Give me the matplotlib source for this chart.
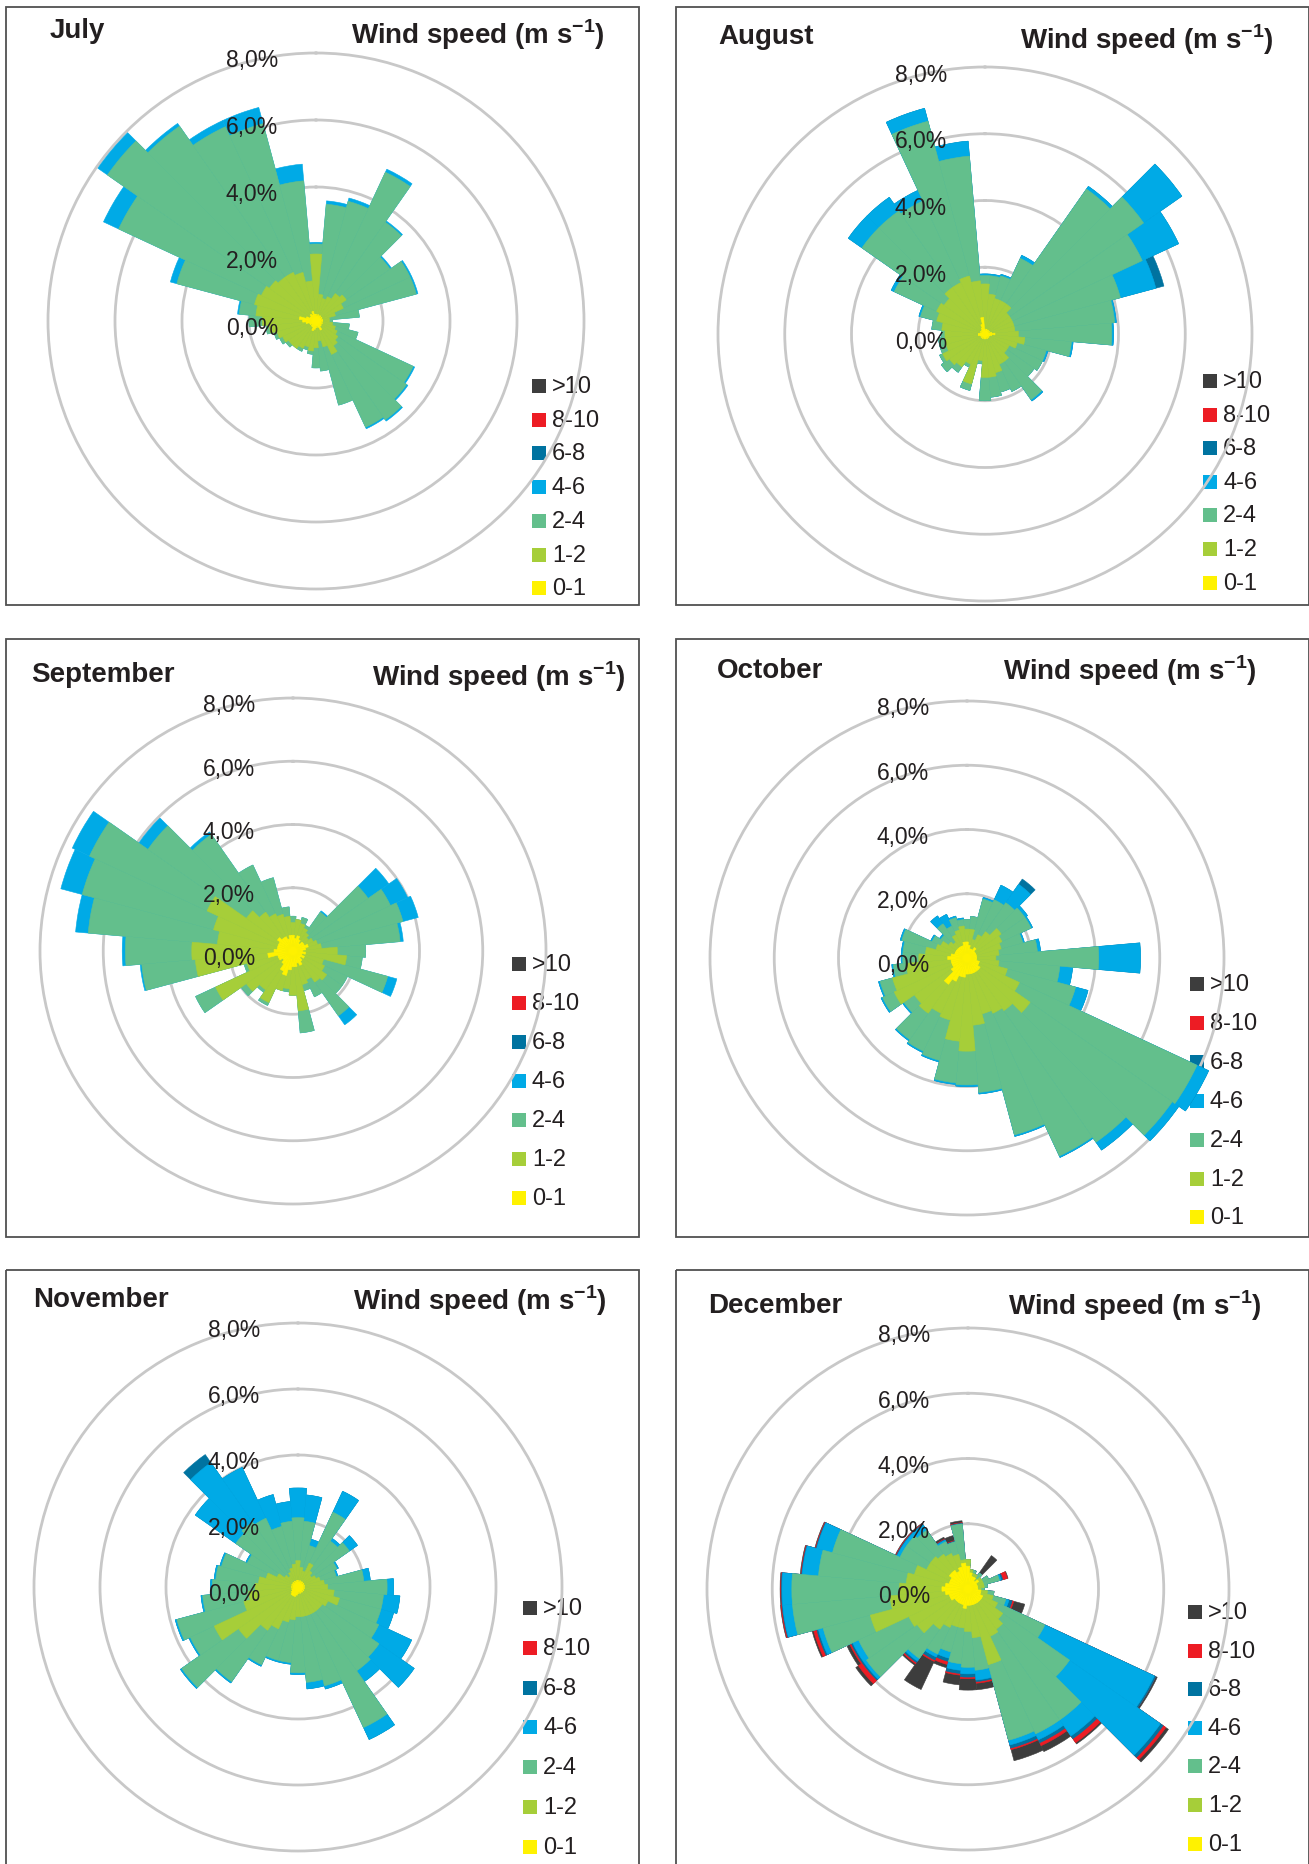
import numpy as np
import matplotlib
matplotlib.use('Agg')
import matplotlib.pyplot as plt
from matplotlib.patches import Rectangle

plt.rcParams['font.family'] = ['Liberation Sans', 'DejaVu Sans']
plt.rcParams['mathtext.fontset'] = 'custom'
plt.rcParams['mathtext.rm'] = 'Liberation Sans'
plt.rcParams['mathtext.bf'] = 'Liberation Sans:bold'

# wind directions (deg, clockwise from north), 10 degree sectors
directions = np.arange(0, 360, 10)
speed_classes = ['>10', '8-10', '6-8', '4-6', '2-4', '1-2', '0-1']
class_colors = {'>10': '#3d3d3d', '8-10': '#ed1c24', '6-8': '#0073a0',
                '4-6': '#00aae6', '2-4': '#63bf8c', '1-2': '#a6ce39', '0-1': '#fff200'}
ring_values = [0, 2, 4, 6, 8]
ring_labels = ['0,0%', '2,0%', '4,0%', '6,0%', '8,0%']

# cumulative frequency (%) up to the upper bound of each speed class, per direction
jul_01 = [0.2, 0.15, 0.2, 0.15, 0.2, 0.15, 0.2, 0.15, 0.2, 0.2, 0.15, 0.2, 0.15, 0.2, 0.2, 0.3, 0.2, 0.15,
          0.2, 0.25, 0.3, 0.2, 0.2, 0.15, 0.2, 0.2, 0.3, 0.4, 0.5, 0.3, 0.2, 0.2, 0.25, 0.2, 0.3, 0.2]
jul_12 = [2.0, 0.8, 0.7, 0.8, 1.0, 1.1, 0.9, 0.6, 0.4, 0.4, 0.5, 0.6, 0.7, 0.8, 0.9, 1.1, 0.8, 0.6,
          0.8, 0.9, 0.8, 0.9, 1.0, 1.0, 1.1, 1.2, 1.4, 1.6, 1.8, 1.9, 1.8, 1.7, 1.6, 1.6, 1.5, 1.2]
jul_24 = [2.3, 3.5, 3.7, 4.9, 3.6, 2.7, 3.1, 3.1, 1.3, 0.5, 1.0, 1.3, 3.2, 3.3, 3.6, 3.5, 2.6, 1.5,
          1.4, 1.0, 0.9, 1.0, 1.0, 1.1, 1.2, 1.3, 1.5, 2.0, 2.3, 4.3, 6.5, 7.6, 7.1, 6.4, 6.1, 4.2]
jul_46 = [2.35, 3.6, 3.8, 5.0, 3.65, 2.75, 3.15, 3.15, 1.3, 0.5, 1.0, 1.3, 3.25, 3.35, 3.65, 3.55, 2.6, 1.5,
          1.4, 1.0, 0.9, 1.0, 1.0, 1.1, 1.2, 1.3, 1.5, 2.0, 2.35, 4.5, 7.0, 7.95, 7.2, 6.6, 6.6, 4.7]

aug_01 = [0.15, 0.1, 0.15, 0.1, 0.15, 0.1, 0.15, 0.1, 0.2, 0.3, 0.2, 0.15, 0.1, 0.15, 0.1, 0.15, 0.1, 0.15,
          0.1, 0.15, 0.1, 0.15, 0.1, 0.15, 0.1, 0.15, 0.2, 0.2, 0.15, 0.1, 0.15, 0.1, 0.15, 0.2, 0.3, 0.5]
aug_12 = [1.5, 1.2, 1.1, 1.1, 1.1, 0.9, 0.9, 0.9, 0.9, 1.0, 1.2, 1.0, 0.8, 0.8, 1.0, 1.0, 1.2, 1.3,
          1.3, 0.8, 1.55, 1.0, 1.2, 1.3, 1.4, 1.2, 1.2, 1.2, 1.3, 1.5, 1.6, 1.5, 1.7, 1.7, 1.8, 1.6]
aug_24 = [1.75, 1.75, 1.8, 2.5, 5.3, 5.8, 5.2, 4.2, 3.9, 3.8, 2.6, 1.9, 1.9, 1.8, 2.4, 1.9, 1.8, 1.9,
          2.0, 0.9, 1.75, 1.1, 1.4, 1.6, 1.5, 1.4, 1.4, 1.3, 1.6, 2.0, 3.0, 4.5, 4.5, 4.4, 6.6, 5.35]
aug_46 = [1.8, 1.8, 1.85, 2.6, 5.4, 7.2, 6.4, 5.3, 3.95, 3.85, 2.65, 1.95, 1.9, 1.8, 2.45, 1.9, 1.8, 1.9,
          2.0, 0.9, 1.75, 1.1, 1.4, 1.6, 1.5, 1.4, 1.4, 1.3, 1.6, 2.05, 3.1, 5.0, 5.0, 4.75, 7.0, 5.8]
aug_68 = [1.8, 1.8, 1.85, 2.6, 5.4, 7.2, 6.4, 5.55, 3.95, 3.85, 2.65, 1.95, 1.9, 1.8, 2.45, 1.9, 1.8, 1.9,
          2.0, 0.9, 1.75, 1.1, 1.4, 1.6, 1.5, 1.4, 1.4, 1.3, 1.6, 2.05, 3.1, 5.0, 5.0, 4.75, 7.0, 5.8]

sep_01 = [0.5, 0.4, 0.5, 0.4, 0.3, 0.4, 0.4, 0.5, 0.4, 0.3, 0.4, 0.3, 0.4, 0.3, 0.4, 0.5, 0.4, 0.5,
          0.5, 0.6, 0.8, 0.7, 0.5, 0.4, 0.5, 0.5, 0.8, 0.6, 0.5, 0.5, 0.5, 0.6, 0.5, 0.5, 0.4, 0.5]
sep_12 = [0.9, 1.0, 0.9, 0.8, 0.7, 0.6, 0.7, 0.8, 0.9, 1.4, 1.7, 1.0, 1.1, 1.3, 1.2, 1.0, 1.1, 1.9,
          1.4, 1.2, 1.3, 1.8, 1.5, 1.8, 2.7, 1.5, 3.1, 3.2, 2.4, 2.6, 3.0, 1.8, 1.5, 1.3, 1.2, 1.1]
sep_24 = [1.1, 1.0, 1.1, 0.9, 1.5, 2.9, 3.4, 3.6, 3.4, 2.3, 2.2, 3.1, 1.9, 1.9, 2.5, 1.6, 1.3, 2.6,
          1.4, 1.3, 1.3, 1.9, 1.6, 2.0, 3.4, 1.6, 4.8, 5.3, 6.5, 6.9, 7.1, 5.6, 4.5, 3.0, 2.4, 1.4]
sep_46 = [1.1, 1.0, 1.1, 0.9, 1.55, 3.7, 4.0, 4.1, 3.5, 2.3, 2.2, 3.4, 1.9, 1.9, 2.85, 1.6, 1.3, 2.6,
          1.4, 1.3, 1.3, 1.9, 1.6, 2.0, 3.4, 1.6, 4.85, 5.4, 6.9, 7.6, 7.7, 5.95, 4.6, 3.0, 2.4, 1.4]

oct_01 = [0.5, 0.4, 0.3, 0.3, 0.4, 0.3, 0.3, 0.3, 0.3, 0.3, 0.3, 0.4, 0.4, 0.5, 0.5, 0.5, 0.5, 0.5,
          0.5, 0.6, 0.6, 0.8, 1.0, 0.6, 0.5, 0.5, 0.5, 0.6, 0.5, 0.4, 0.4, 0.4, 0.4, 0.4, 0.4, 0.5]
oct_12 = [0.9, 0.9, 0.6, 0.8, 1.0, 1.3, 1.2, 1.1, 1.0, 0.9, 1.0, 1.3, 1.8, 2.4, 2.0, 1.9, 1.8, 2.1,
          2.9, 2.6, 2.0, 1.9, 2.1, 2.0, 2.5, 2.4, 1.9, 1.5, 1.3, 1.0, 0.9, 0.7, 0.6, 0.8, 0.9, 1.0]
oct_24 = [1.2, 1.3, 1.9, 2.0, 2.1, 2.2, 2.2, 1.8, 2.2, 4.1, 2.9, 3.5, 7.9, 7.8, 7.0, 6.8, 5.7, 4.2,
          3.95, 3.9, 3.3, 3.2, 3.1, 2.4, 2.9, 2.8, 2.3, 2.0, 2.0, 2.1, 1.2, 1.0, 1.3, 1.1, 1.3, 1.2]
oct_46 = [1.2, 1.3, 1.95, 2.5, 2.8, 2.3, 2.25, 1.85, 2.3, 5.4, 3.3, 3.9, 8.3, 8.05, 7.3, 6.85, 5.75, 4.25,
          4.0, 3.95, 3.35, 3.25, 3.15, 2.45, 2.95, 2.85, 2.35, 2.05, 2.05, 2.15, 1.25, 1.05, 1.6, 1.5, 1.35, 1.25]
oct_68 = [1.2, 1.3, 1.95, 2.5, 3.0, 2.3, 2.25, 1.85, 2.3, 5.4, 3.3, 3.9, 8.3, 8.05, 7.3, 6.85, 5.75, 4.25,
          4.0, 3.95, 3.35, 3.25, 3.15, 2.45, 2.95, 2.85, 2.35, 2.05, 2.05, 2.15, 1.25, 1.05, 1.6, 1.5, 1.35, 1.25]

nov_01 = [0.2, 0.15, 0.2, 0.15, 0.2, 0.15, 0.2, 0.15, 0.2, 0.15, 0.2, 0.15, 0.2, 0.15, 0.2, 0.15, 0.2, 0.15,
          0.2, 0.25, 0.3, 0.3, 0.3, 0.25, 0.2, 0.2, 0.15, 0.2, 0.15, 0.2, 0.15, 0.2, 0.15, 0.2, 0.15, 0.2]
nov_12 = [0.8, 0.6, 0.5, 0.8, 0.6, 0.5, 0.6, 0.7, 0.8, 0.9, 1.1, 1.3, 1.0, 0.9, 0.9, 0.9, 0.9, 0.9,
          0.9, 1.0, 1.1, 1.4, 1.6, 2.2, 2.8, 1.7, 1.5, 1.3, 1.2, 1.0, 0.7, 0.5, 0.4, 0.5, 0.6, 0.7]
nov_24 = [2.1, 2.0, 1.3, 2.5, 1.7, 1.9, 1.3, 1.2, 2.0, 2.7, 2.6, 2.6, 2.7, 3.0, 3.1, 4.7, 3.1, 2.9,
          2.6, 2.3, 2.3, 2.6, 3.5, 4.3, 3.6, 3.8, 2.9, 2.6, 2.5, 2.4, 1.7, 2.3, 2.4, 2.3, 1.9, 2.0]
nov_46 = [3.0, 2.8, 1.5, 3.2, 1.8, 2.2, 1.35, 1.25, 2.2, 2.9, 3.1, 3.0, 3.8, 4.3, 3.5, 5.1, 3.2, 3.1,
          2.65, 2.35, 2.35, 2.65, 3.55, 4.35, 3.65, 3.85, 2.95, 2.65, 2.55, 2.45, 1.75, 3.8, 4.6, 4.0, 2.9, 2.6]
nov_68 = [3.0, 2.8, 1.5, 3.2, 1.8, 2.2, 1.35, 1.25, 2.2, 2.9, 3.1, 3.0, 3.8, 4.3, 3.5, 5.1, 3.2, 3.1,
          2.65, 2.35, 2.35, 2.65, 3.55, 4.35, 3.65, 3.85, 2.95, 2.65, 2.55, 2.45, 1.75, 3.8, 4.9, 4.0, 2.9, 2.6]

dec_01 = [0.7, 0.5, 0.4, 0.4, 0.3, 0.4, 0.3, 0.3, 0.3, 0.3, 0.4, 0.4, 0.5, 0.5, 0.5, 0.5, 0.5, 0.5,
          0.5, 0.6, 0.5, 0.5, 0.5, 0.5, 0.6, 0.6, 0.7, 0.8, 0.7, 0.6, 0.6, 0.7, 0.7, 0.6, 0.7, 0.8]
dec_12 = [0.9, 0.6, 0.5, 0.5, 0.4, 0.5, 0.5, 0.5, 0.5, 0.4, 0.6, 0.8, 1.0, 1.3, 1.5, 1.6, 2.4, 1.5,
          1.3, 1.2, 1.2, 1.3, 1.5, 1.9, 2.0, 3.1, 2.4, 2.1, 1.9, 1.7, 1.4, 1.4, 1.3, 1.2, 1.1, 0.9]
dec_24 = [0.9, 0.6, 0.6, 0.5, 0.6, 0.5, 0.7, 1.0, 0.6, 0.5, 0.8, 1.2, 2.6, 3.8, 4.9, 4.9, 4.8, 2.5,
          2.4, 2.3, 2.0, 2.2, 2.6, 3.8, 3.7, 4.6, 5.4, 5.4, 4.6, 4.3, 2.3, 2.3, 2.2, 1.6, 1.5, 2.0]
dec_46 = [0.9, 0.6, 0.6, 0.5, 0.6, 0.5, 0.7, 1.05, 0.6, 0.5, 0.8, 1.3, 6.3, 7.2, 5.5, 5.1, 4.95, 2.8,
          2.6, 2.5, 2.2, 2.3, 2.7, 3.9, 3.9, 4.75, 5.7, 5.7, 5.1, 4.8, 2.4, 2.4, 2.4, 1.65, 1.5, 2.0]
dec_68 = [0.9, 0.6, 0.6, 0.5, 0.6, 0.5, 0.7, 1.1, 0.6, 0.5, 0.8, 1.4, 6.35, 7.3, 5.6, 5.2, 5.05, 2.85,
          2.7, 2.6, 2.3, 2.4, 2.75, 3.95, 3.95, 4.8, 5.72, 5.72, 5.12, 4.82, 2.42, 2.42, 2.42, 1.67, 1.52, 2.02]
dec_810 = [0.9, 0.6, 0.6, 0.5, 0.6, 0.5, 0.7, 1.25, 0.6, 0.5, 0.8, 1.45, 6.35, 7.4, 5.75, 5.3, 5.1, 2.9,
           2.75, 2.65, 2.4, 2.45, 2.8, 4.1, 4.0, 4.9, 5.75, 5.74, 5.14, 4.84, 2.44, 2.44, 2.44, 1.69, 1.54, 2.04]
dec_10p = [0.9, 0.6, 0.6, 0.5, 1.25, 0.5, 0.7, 1.27, 0.6, 0.5, 0.8, 1.8, 6.4, 7.5, 5.8, 5.5, 5.45, 3.1,
           3.1, 2.95, 2.5, 3.4, 2.85, 4.2, 4.1, 4.95, 5.77, 5.76, 5.16, 4.86, 2.46, 2.46, 2.46, 1.75, 1.7, 2.1]

months = ['July', 'August', 'September', 'October', 'November', 'December']
month_layers = [
    {'4-6': jul_46, '2-4': jul_24, '1-2': jul_12, '0-1': jul_01},
    {'6-8': aug_68, '4-6': aug_46, '2-4': aug_24, '1-2': aug_12, '0-1': aug_01},
    {'4-6': sep_46, '2-4': sep_24, '1-2': sep_12, '0-1': sep_01},
    {'6-8': oct_68, '4-6': oct_46, '2-4': oct_24, '1-2': oct_12, '0-1': oct_01},
    {'6-8': nov_68, '4-6': nov_46, '2-4': nov_24, '1-2': nov_12, '0-1': nov_01},
    {'>10': dec_10p, '8-10': dec_810, '6-8': dec_68, '4-6': dec_46, '2-4': dec_24, '1-2': dec_12, '0-1': dec_01},
]

# layout in pixels
W, H = 1309, 1865
boxes = [(6, 8, 633, 598), (676, 8, 633, 598), (6, 640, 633, 598),
         (676, 640, 633, 598), (6, 1271, 633, 620), (676, 1271, 633, 620)]
centers = [(316, 322, 268), (985, 335, 267), (293, 952, 253),
           (967, 959, 257), (298, 1588, 264), (968, 1590, 261)]
name_pos = [(50, 31), (718, 37), (31, 675), (717, 671), (33, 1300), (708, 1306)]
ws_pos = [(605, 35), (1274, 40), (626, 677), (1257, 671), (607, 1301), (1262, 1306)]
legend_pos = [(532, 387, 33.7), (1203, 382, 33.6), (512, 965, 39.0),
              (1190, 985, 38.9), (523, 1609, 39.8), (1188, 1613, 38.6)]
rmax = 8.6
txt = '#231f20'

fig = plt.figure(figsize=(W / 100, H / 100), dpi=100)
bg = fig.add_axes([0, 0, 1, 1])
bg.set_xlim(0, W)
bg.set_ylim(H, 0)
bg.axis('off')

for i, month in enumerate(months):
    x0, y0, bw, bh = boxes[i]
    bg.add_patch(Rectangle((x0, y0), bw, bh, fill=False, ec='#505050', lw=1.3))
    bg.text(name_pos[i][0], name_pos[i][1], month, fontsize=20, fontweight='bold',
            ha='left', va='center', color=txt)
    bg.text(ws_pos[i][0], ws_pos[i][1], r'Wind speed (m s$^{\mathbf{-1}}$)', fontsize=20,
            fontweight='bold', ha='right', va='center', color=txt)

    lx, ly, dy = legend_pos[i]
    for k, cls in enumerate(speed_classes):
        yy = ly + k * dy
        bg.add_patch(Rectangle((lx, yy - 7), 14, 14, color=class_colors[cls], lw=0))
        bg.text(lx + 20, yy, cls, fontsize=17, ha='left', va='center', color=txt)

    cx, cy, R = centers[i]
    half = R * rmax / 8
    ax = fig.add_axes([(cx - half) / W, 1 - (cy + half) / H, 2 * half / W, 2 * half / H],
                      projection='polar')
    ax.set_theta_zero_location('N')
    ax.set_theta_direction(-1)
    ax.patch.set_alpha(0)
    th = np.deg2rad(directions)
    for cls in speed_classes:
        if cls in month_layers[i]:
            c = class_colors[cls]
            ax.bar(th, month_layers[i][cls], width=np.deg2rad(10), color=c,
                   edgecolor=c, linewidth=0.4, align='center')
    ax.set_ylim(0, rmax)
    ax.set_yticks([2, 4, 6, 8])
    ax.set_yticklabels([])
    ax.set_xticks([])
    ax.set_axisbelow(True)
    ax.grid(True, color='#c8c8c8', lw=2)
    ax.spines['polar'].set_visible(False)
    for v, lab in zip(ring_values, ring_labels):
        ax.annotate(lab, xy=(0, v), xytext=(-38, -7), textcoords='offset pixels',
                    ha='right', va='center', fontsize=16.5, color=txt, annotation_clip=False)

fig.savefig('out.png', dpi=100)
